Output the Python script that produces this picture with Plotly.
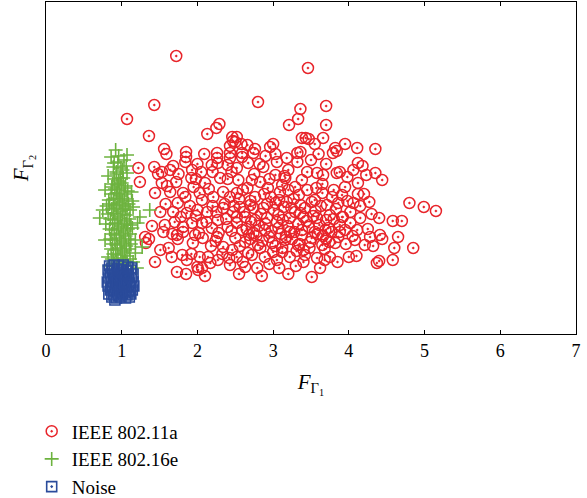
import plotly.graph_objects as go

# ---------------- data ----------------
# IEEE 802.11a  (x = F_Gamma1, y = F_Gamma2 in arbitrary units)
ieee80211a_pts = [
    (1.72, 2.78), (3.46, 2.66), (1.43, 2.29), (1.07, 2.15), (2.80, 2.32), (1.36, 1.98),
    (2.13, 2.00), (2.29, 2.10), (2.25, 2.06), (2.46, 1.97), (2.47, 1.93), (2.43, 1.88),
    (1.56, 1.85), (1.59, 1.80), (1.85, 1.82), (1.85, 1.77), (2.09, 1.80), (2.26, 1.81),
    (2.26, 1.76), (2.43, 1.81), (2.43, 1.76), (3.36, 2.25), (3.70, 2.28), (3.33, 2.15),
    (3.21, 2.09), (3.70, 2.09), (3.38, 1.96), (3.43, 1.96), (3.47, 1.95), (3.66, 1.96),
    (3.55, 1.90), (3.36, 1.82), (3.82, 1.86), (3.84, 1.83), (2.66, 1.89), (2.76, 1.85),
    (2.74, 1.81), (2.96, 1.87), (3.00, 1.90), (3.03, 1.80), (2.52, 1.97), (2.50, 1.92),
    (2.59, 1.81), (3.95, 1.90), (4.11, 1.86), (4.35, 1.85), (4.12, 1.71), (4.06, 1.64),
    (4.23, 1.59), (4.35, 1.61), (4.44, 1.54), (3.88, 1.62), (3.98, 1.57), (4.12, 1.51),
    (4.80, 1.31), (4.99, 1.27), (5.15, 1.23), (4.27, 1.32), (4.58, 1.13), (4.70, 1.13),
    (4.40, 1.16), (4.65, 0.97), (4.41, 0.99), (4.44, 0.95), (4.60, 0.86), (4.85, 0.86),
    (4.58, 0.74), (4.40, 0.73), (4.37, 0.71), (4.00, 0.77), (4.32, 0.88), (4.21, 0.89),
    (4.08, 0.94), (4.11, 1.04), (4.28, 0.97), (4.06, 1.31), (3.92, 1.17), (4.02, 1.11),
    (4.15, 1.16), (1.22, 1.66), (1.43, 1.67), (1.53, 1.62), (1.68, 1.68), (1.64, 1.64),
    (1.84, 1.72), (1.93, 1.64), (2.00, 1.70), (2.19, 1.69), (2.27, 1.71), (2.40, 1.69),
    (2.52, 1.66), (1.24, 1.52), (1.53, 1.51), (1.60, 1.48), (1.92, 1.56), (2.10, 1.51),
    (2.30, 1.56), (1.44, 1.41), (1.64, 1.42), (1.81, 1.41), (1.84, 1.37), (1.74, 1.31),
    (2.03, 1.41), (2.06, 1.34), (2.21, 1.37), (2.34, 1.42), (2.43, 1.37), (2.52, 1.41),
    (1.51, 1.22), (2.00, 1.24), (1.86, 1.21), (2.13, 1.22), (2.34, 1.26), (2.47, 1.22),
    (1.57, 1.09), (1.70, 1.12), (1.81, 1.07), (1.93, 1.11), (1.81, 1.02), (2.06, 1.11),
    (2.19, 1.06), (2.27, 1.14), (2.40, 1.07), (2.52, 1.11), (1.55, 1.02), (1.73, 0.99),
    (1.74, 0.95), (1.31, 0.97), (1.36, 0.95), (1.32, 0.91), (1.97, 0.99), (1.94, 0.91),
    (2.07, 0.96), (2.26, 0.97), (2.34, 0.87), (2.50, 0.96), (2.46, 0.84), (1.51, 0.84),
    (1.66, 0.77), (1.80, 0.79), (1.86, 0.74), (1.44, 0.72), (2.03, 0.77), (2.14, 0.77),
    (2.00, 0.67), (2.06, 0.66), (2.17, 0.71), (2.27, 0.74), (2.43, 0.69), (1.73, 0.62),
    (2.01, 0.64), (2.52, 0.77), (3.32, 1.81), (3.79, 1.81), (2.59, 1.77), (2.67, 1.71),
    (2.87, 1.67), (3.32, 1.72), (3.20, 1.64), (2.54, 1.54), (2.72, 1.54), (2.83, 1.52),
    (3.03, 1.59), (3.16, 1.56), (3.38, 1.54), (3.58, 1.61), (3.66, 1.59), (3.84, 1.61),
    (2.60, 1.44), (2.76, 1.37), (2.93, 1.46), (3.12, 1.49), (3.20, 1.44), (3.29, 1.47),
    (3.45, 1.44), (3.65, 1.41), (3.78, 1.37), (3.91, 1.39), (2.56, 1.27), (2.70, 1.29),
    (2.87, 1.26), (3.03, 1.31), (3.18, 1.32), (3.36, 1.29), (3.51, 1.32), (3.71, 1.29),
    (3.86, 1.31), (2.63, 1.17), (2.76, 1.14), (2.92, 1.16), (3.07, 1.19), (3.22, 1.16),
    (3.40, 1.17), (3.58, 1.16), (3.75, 1.19), (3.91, 1.17), (2.59, 1.04), (2.74, 1.01),
    (2.89, 1.04), (3.07, 1.06), (3.22, 1.02), (3.38, 1.04), (3.55, 1.02), (3.73, 1.06),
    (3.88, 1.02), (2.63, 0.92), (2.80, 0.89), (2.99, 0.91), (3.16, 0.94), (3.33, 0.89),
    (3.49, 0.92), (3.65, 0.89), (3.82, 0.91), (2.67, 0.81), (2.89, 0.77), (3.12, 0.82),
    (3.22, 0.77), (3.42, 0.79), (3.58, 0.76), (3.75, 0.77), (2.63, 0.67), (2.79, 0.66),
    (3.08, 0.66), (3.51, 0.57), (2.65, 1.05), (2.71, 1.12), (2.78, 0.98), (2.84, 1.20),
    (2.90, 1.10), (2.95, 0.97), (3.01, 1.24), (3.05, 1.12), (3.10, 1.00), (3.14, 1.27),
    (3.19, 1.08), (3.25, 0.95), (3.29, 1.22), (3.33, 1.10), (3.38, 0.99), (3.42, 1.26),
    (3.47, 1.07), (3.51, 0.96), (3.56, 1.23), (3.61, 1.09), (3.66, 0.98), (3.70, 1.14),
    (3.77, 1.02), (3.83, 1.25), (3.88, 1.09), (2.52, 1.17), (2.56, 0.88), (2.70, 1.33),
    (2.83, 0.86), (2.97, 1.37), (3.12, 0.86), (3.27, 1.35), (3.40, 0.84), (3.55, 1.34),
    (3.68, 0.85), (3.95, 1.04), (4.02, 1.22), (3.96, 0.90), (2.48, 1.28), (2.38, 1.15),
    (2.28, 1.01), (2.20, 1.28), (2.12, 1.12), (2.02, 1.01), (1.90, 1.28), (1.78, 1.17),
    (1.67, 1.00), (1.58, 1.30), (2.33, 0.80), (2.18, 0.88), (2.60, 0.72), (2.95, 0.70),
    (3.30, 0.68), (3.62, 0.66), (3.85, 0.72), (3.15, 1.58), (3.45, 1.62), (2.95, 1.55),
    (3.65, 1.50), (2.75, 1.60), (3.50, 1.74), (3.05, 1.72), (2.40, 1.55), (2.20, 1.62),
    (1.98, 1.55), (1.72, 1.52), (1.48, 1.60), (2.58, 1.90), (2.90, 1.78), (3.70, 1.70),
    (3.95, 1.47), (4.20, 1.40), (4.15, 1.28), (4.30, 1.20), (4.25, 1.05), (1.40, 1.08),
    (1.62, 0.86), (1.92, 0.80), (2.55, 0.60), (2.85, 0.58), (3.20, 0.60), (3.00, 0.82),
    (2.70, 0.95), (3.35, 0.90), (3.70, 0.95), (4.10, 0.78), (1.85, 0.60), (2.10, 0.58),
    (2.62, 1.22), (2.68, 0.99), (2.74, 1.26), (2.81, 1.08), (2.86, 0.93), (2.92, 1.30),
    (2.98, 1.03), (3.03, 0.88), (3.08, 1.34), (3.13, 1.14), (3.17, 0.97), (3.24, 1.26),
    (3.28, 1.02), (3.31, 0.83), (3.36, 1.21), (3.44, 1.13), (3.48, 0.86), (3.53, 1.18),
    (3.59, 1.00), (3.63, 1.28), (3.69, 1.04), (3.74, 0.92), (3.80, 1.15), (3.86, 0.97),
    (2.45, 1.03), (2.55, 1.35), (2.66, 1.46), (2.88, 1.40), (3.09, 1.42), (3.34, 1.39),
    (3.57, 1.46), (3.80, 1.44), (2.36, 1.30), (2.15, 1.45), (1.98, 1.18), (2.24, 0.93),
    (2.42, 0.76), (2.72, 0.79), (3.05, 0.74), (3.40, 0.72), (3.68, 0.74), (4.05, 0.98),
    (4.12, 1.40), (3.98, 1.33), (4.18, 1.68), (3.60, 1.80), (3.18, 1.76), (2.82, 1.70),
    (2.45, 1.62), (2.05, 1.62), (1.75, 1.60), (1.95, 1.47), (2.25, 1.22), (1.68, 1.22),
]

# IEEE 802.16e
ieee80216e_pts = [
    (0.92, 1.84), (0.86, 1.77), (1.07, 1.79), (0.95, 1.72), (0.89, 1.67), (1.01, 1.64),
    (1.06, 1.68), (0.82, 1.58), (1.07, 1.61), (0.93, 1.60), (0.98, 1.56), (0.87, 1.47),
    (0.78, 1.44), (1.13, 1.42), (1.37, 1.24), (0.75, 1.24), (0.71, 1.16), (1.24, 1.17),
    (1.15, 1.27), (1.21, 1.11), (1.18, 0.94), (1.27, 0.87), (1.18, 0.81), (0.78, 0.94),
    (0.82, 0.77), (0.90, 1.55), (0.96, 1.53), (1.02, 1.56), (0.88, 1.50), (0.94, 1.49),
    (1.00, 1.51), (1.05, 1.48), (0.91, 1.45), (0.97, 1.44), (1.03, 1.46), (1.08, 1.43),
    (0.86, 1.40), (0.93, 1.41), (0.99, 1.38), (1.04, 1.40), (0.89, 1.35), (0.95, 1.36),
    (1.01, 1.33), (1.07, 1.35), (0.83, 1.34), (0.84, 1.30), (0.91, 1.29), (0.97, 1.31),
    (1.03, 1.28), (1.09, 1.30), (0.87, 1.25), (0.93, 1.26), (0.99, 1.23), (1.05, 1.25),
    (1.11, 1.24), (0.82, 1.20), (0.89, 1.21), (0.95, 1.18), (1.01, 1.20), (1.07, 1.19),
    (0.85, 1.15), (0.91, 1.14), (0.98, 1.16), (1.04, 1.13), (1.10, 1.15), (0.88, 1.10),
    (0.94, 1.11), (1.00, 1.08), (1.06, 1.10), (1.12, 1.09), (0.84, 1.05), (0.90, 1.04),
    (0.96, 1.06), (1.02, 1.03), (1.08, 1.05), (0.87, 1.00), (0.93, 0.99), (0.99, 1.01),
    (1.05, 0.98), (1.11, 1.00), (0.85, 0.95), (0.91, 0.94), (0.97, 0.96), (1.03, 0.93),
    (1.09, 0.95), (0.88, 0.90), (0.94, 0.89), (1.00, 0.91), (1.06, 0.88), (1.12, 0.90),
    (0.86, 0.85), (0.92, 0.84), (0.98, 0.86), (1.04, 0.83), (1.10, 0.85), (0.89, 0.80),
    (0.95, 0.79), (1.01, 0.81), (1.07, 0.78), (0.87, 0.75), (0.93, 0.74), (0.99, 0.76),
    (1.05, 0.73), (1.11, 0.75), (0.90, 0.70), (0.96, 0.69), (1.02, 0.71), (1.08, 0.68),
    (0.93, 1.62), (0.99, 1.66), (0.90, 1.71), (1.03, 1.74), (0.96, 1.78), (1.14, 1.33),
    (0.80, 1.28), (0.79, 1.10), (1.14, 1.06), (1.15, 0.72), (1.20, 0.66), (0.84, 0.68),
]

# Noise
noise_pts = [
    (0.84, 0.68), (0.90, 0.69), (0.96, 0.68), (1.02, 0.69), (1.08, 0.67), (1.13, 0.66),
    (0.82, 0.64), (0.88, 0.63), (0.94, 0.65), (1.00, 0.64), (1.06, 0.63), (1.12, 0.64),
    (0.85, 0.60), (0.91, 0.59), (0.97, 0.61), (1.03, 0.60), (1.09, 0.59), (1.15, 0.60),
    (0.83, 0.56), (0.89, 0.55), (0.95, 0.57), (1.01, 0.56), (1.07, 0.55), (1.13, 0.56),
    (0.86, 0.52), (0.92, 0.51), (0.98, 0.53), (1.04, 0.52), (1.10, 0.51), (1.15, 0.52),
    (0.82, 0.48), (0.88, 0.47), (0.94, 0.49), (1.00, 0.48), (1.06, 0.47), (1.12, 0.48),
    (0.85, 0.44), (0.91, 0.43), (0.97, 0.45), (1.03, 0.44), (1.09, 0.43), (1.14, 0.44),
    (0.83, 0.40), (0.89, 0.39), (0.95, 0.41), (1.01, 0.40), (1.07, 0.39), (1.12, 0.40),
    (0.87, 0.37), (0.93, 0.36), (0.99, 0.37), (1.05, 0.36), (1.10, 0.37), (0.91, 0.34),
    (0.87, 0.66), (0.99, 0.62), (1.05, 0.58), (0.93, 0.54), (0.86, 0.46), (1.11, 0.42),
    (0.98, 0.43), (1.04, 0.50), (0.90, 0.57), (1.16, 0.48), (0.81, 0.52), (0.96, 0.38),
]

# ---------------- figure ----------------
SERIF = "Liberation Serif, Times New Roman, serif"

fig = go.Figure()
series = [
    ("IEEE 802.11a", ieee80211a_pts, "circle-open-dot", "#e8242a", 11, 1.5),
    ("IEEE 802.16e", ieee80216e_pts, "cross-thin-open", "#6db33f", 10, 1.6),
    ("Noise", noise_pts, "square-open-dot", "#2a4b9b", 10, 1.6),
]
for name, pts, sym, col, size, lw in series:
    fig.add_trace(go.Scatter(
        x=[p[0] for p in pts], y=[p[1] for p in pts],
        mode="markers", name=name, legendgroup=name,
        marker=dict(symbol=sym, color=col, size=size, line=dict(color=col, width=lw)),
    ))

fig.update_layout(
    width=587, height=498,
    margin=dict(l=46, r=11, t=2, b=164, autoexpand=False),
    paper_bgcolor="white", plot_bgcolor="white",
    font=dict(family=SERIF, size=18, color="black"),
    showlegend=True,
    legend=dict(x=-0.027, y=-0.236, xanchor="left", yanchor="top",
                font=dict(family=SERIF, size=19), tracegroupgap=0,
                bgcolor="rgba(0,0,0,0)"),
    xaxis=dict(range=[0, 7], tickvals=[0, 1, 2, 3, 4, 5, 6, 7], showgrid=False, zeroline=False,
               showline=True, linecolor="black", linewidth=1, mirror="ticks",
               ticks="inside", ticklen=4, tickcolor="black", automargin=False,
               tickfont=dict(family=SERIF, size=18),
               title=dict(text="<i>F</i><sub>Γ<sub>1</sub></sub>",
                          font=dict(family=SERIF, size=21), standoff=14)),
    yaxis=dict(range=[0, 3.32], showgrid=False, zeroline=False, showticklabels=False,
               showline=True, linecolor="black", linewidth=1, mirror=True, ticks="",
               automargin=False,
               title=dict(text="<i>F</i><sub>Γ<sub>2</sub></sub>",
                          font=dict(family=SERIF, size=21), standoff=10)),
)

fig.write_html("out.html", config={"displayModeBar": False},
               post_script="document.body.style.margin='0';document.body.style.padding='0';")
